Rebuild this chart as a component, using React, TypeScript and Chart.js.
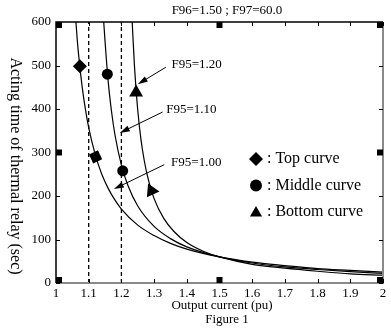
import { useEffect, useRef } from 'react';
import { Chart, registerables } from 'chart.js';

Chart.register(...registerables);

// Curve data (output current in pu, acting time in sec)
const topCurrent = [1.061, 1.065, 1.07, 1.08, 1.09, 1.10, 1.12, 1.14, 1.16, 1.18, 1.20, 1.25, 1.30, 1.35, 1.40, 1.50, 1.60, 1.70, 1.80, 1.90, 2.00];
const topTime = [600, 559, 518, 451, 399, 357, 295, 250, 217, 191, 170, 133, 109, 91, 78, 60, 48, 40, 33, 29, 25];

const middleCurrent = [1.146, 1.15, 1.16, 1.17, 1.18, 1.20, 1.22, 1.25, 1.30, 1.35, 1.40, 1.50, 1.60, 1.70, 1.80, 1.90, 2.00];
const middleTime = [600, 555, 460, 393, 342, 271, 224, 177, 130, 102, 83, 60, 46, 37, 31, 26, 22];

const bottomCurrent = [1.233, 1.24, 1.25, 1.26, 1.27, 1.28, 1.30, 1.33, 1.36, 1.40, 1.45, 1.50, 1.60, 1.70, 1.80, 1.90, 2.00];
const bottomTime = [600, 498, 397, 329, 281, 245, 194, 148, 119, 93, 73, 60, 43, 34, 27, 21, 18];

// Marker positions on the curves
const topMarkCurrent = [1.073, 1.121];
const topMarkTime = [498, 290];
const middleMarkCurrent = [1.157, 1.204];
const middleMarkTime = [480, 258];
const bottomMarkCurrent = [1.245, 1.292];
const bottomMarkTime = [438, 212];

// Dashed reference lines
const dashedCurrents = [1.1, 1.2];

// Axis limits
const xMin = 1, xMax = 2, xStep = 0.1;
const yMin = 0, yMax = 600, yStep = 100;
const xSquareTicks = [1, 1.5, 2];
const ySquareTicks = [0, 300, 600];

// Annotations (F95 labels with arrows)
const annotLabels = ['F95=1.20', 'F95=1.10', 'F95=1.00'];
const annotTextCurrent = [1.353, 1.337, 1.352];
const annotTextTime = [503, 399, 276];
const annotTailCurrent = [1.336, 1.326, 1.331];
const annotTailTime = [496, 393, 272];
const annotTipCurrent = [1.250, 1.195, 1.177];
const annotTipTime = [457, 345, 216];

// Legend
const legendLabels = [': Top curve', ': Middle curve', ': Bottom curve'];
const legendShapes = ['diamond', 'circle', 'triangle'];

const titleText = 'F96=1.50 ; F97=60.0';
const xTitle = 'Output current (pu)';
const figureText = 'Figure 1';
const yTitle = 'Acting time of thermal relay (sec)';

const SERIF = "'Liberation Serif', 'Times New Roman', serif";

function toXY(xs: number[], ys: number[]) {
  return xs.map((x, i) => ({ x, y: ys[i] }));
}

function drawShape(ctx: CanvasRenderingContext2D, shape: string, x: number, y: number, r: number) {
  ctx.beginPath();
  if (shape === 'diamond') {
    ctx.moveTo(x, y - r);
    ctx.lineTo(x + r, y);
    ctx.lineTo(x, y + r);
    ctx.lineTo(x - r, y);
  } else if (shape === 'circle') {
    ctx.arc(x, y, r * 0.85, 0, Math.PI * 2);
  } else {
    const w = r * Math.sin((2 * Math.PI) / 3);
    ctx.moveTo(x, y - r);
    ctx.lineTo(x + w, y + r / 2);
    ctx.lineTo(x - w, y + r / 2);
  }
  ctx.closePath();
  ctx.fill();
}

const decorPlugin = {
  id: 'decor',
  afterDraw(chart: any) {
    const ctx: CanvasRenderingContext2D = chart.ctx;
    const { left, right, top, bottom } = chart.chartArea;
    const xs = chart.scales.x;
    const ys = chart.scales.y;
    ctx.save();

    // Frame
    ctx.strokeStyle = '#8a8a8a';
    ctx.lineWidth = 2;
    ctx.beginPath();
    ctx.moveTo(left, bottom);
    ctx.lineTo(right, bottom);
    ctx.lineTo(right, top);
    ctx.stroke();
    ctx.strokeStyle = '#000';
    ctx.lineWidth = 1.5;
    ctx.beginPath();
    ctx.moveTo(left, bottom);
    ctx.lineTo(left, top);
    ctx.lineTo(right, top);
    ctx.stroke();

    // Inside ticks
    ctx.lineWidth = 1;
    ctx.strokeStyle = '#000';
    const tl = 4;
    xs.ticks.forEach((t: any) => {
      const px = Math.round(xs.getPixelForValue(t.value)) + 0.5;
      ctx.beginPath();
      ctx.moveTo(px, top);
      ctx.lineTo(px, top + tl);
      ctx.moveTo(px, bottom);
      ctx.lineTo(px, bottom - tl);
      ctx.stroke();
    });
    ys.ticks.forEach((t: any) => {
      const py = Math.round(ys.getPixelForValue(t.value)) + 0.5;
      ctx.beginPath();
      ctx.moveTo(left, py);
      ctx.lineTo(left + tl, py);
      ctx.moveTo(right, py);
      ctx.lineTo(right - tl, py);
      ctx.stroke();
    });

    // Squares
    ctx.fillStyle = '#000';
    const s = 6;
    xSquareTicks.forEach((v) => {
      const px = xs.getPixelForValue(v);
      let x0 = px - s / 2;
      if (x0 < left) x0 = left;
      if (x0 + s > right) x0 = right - s;
      ctx.fillRect(x0, top, s, s);
      ctx.fillRect(x0, bottom - s, s, s);
    });
    ySquareTicks.forEach((v) => {
      const py = ys.getPixelForValue(v);
      let y0 = py - s / 2;
      if (y0 < top) y0 = top;
      if (y0 + s > bottom) y0 = bottom - s;
      ctx.fillRect(left, y0, s, s);
      ctx.fillRect(right - s, y0, s, s);
    });

    // Annotations
    ctx.fillStyle = '#000';
    ctx.strokeStyle = '#000';
    ctx.font = `13px ${SERIF}`;
    ctx.textBaseline = 'middle';
    ctx.textAlign = 'left';
    annotLabels.forEach((lab, i) => {
      const tx = xs.getPixelForValue(annotTextCurrent[i]);
      const ty = ys.getPixelForValue(annotTextTime[i]);
      ctx.fillText(lab, tx, ty);
      const ax = xs.getPixelForValue(annotTailCurrent[i]);
      const ay = ys.getPixelForValue(annotTailTime[i]);
      const bx = xs.getPixelForValue(annotTipCurrent[i]);
      const by = ys.getPixelForValue(annotTipTime[i]);
      const ang = Math.atan2(by - ay, bx - ax);
      const hl = 10, hw = 3;
      ctx.lineWidth = 1;
      ctx.beginPath();
      ctx.moveTo(ax, ay);
      ctx.lineTo(bx - Math.cos(ang) * hl * 0.8, by - Math.sin(ang) * hl * 0.8);
      ctx.stroke();
      ctx.beginPath();
      ctx.moveTo(bx, by);
      ctx.lineTo(bx - Math.cos(ang) * hl - Math.sin(ang) * hw, by - Math.sin(ang) * hl + Math.cos(ang) * hw);
      ctx.lineTo(bx - Math.cos(ang) * hl + Math.sin(ang) * hw, by - Math.sin(ang) * hl - Math.cos(ang) * hw);
      ctx.closePath();
      ctx.fill();
    });

    // Legend
    ctx.font = `16px ${SERIF}`;
    legendLabels.forEach((lab, i) => {
      const cy = 159 + i * 26.5;
      drawShape(ctx, legendShapes[i], 256, cy + (legendShapes[i] === 'triangle' ? 1 : 0), 7);
      ctx.fillText(lab, 267, cy);
    });

    // Titles
    ctx.textAlign = 'center';
    ctx.font = `13px ${SERIF}`;
    ctx.fillText(titleText, 227, 11);
    ctx.fillText(xTitle, 222, 306);
    ctx.fillText(figureText, 227, 320);

    ctx.save();
    ctx.translate(15, 166);
    ctx.rotate(Math.PI / 2);
    ctx.font = `16px ${SERIF}`;
    ctx.fillText(yTitle, 0, 0);
    ctx.restore();

    ctx.restore();
  },
};

export default function App() {
  const ref = useRef<HTMLCanvasElement | null>(null);

  useEffect(() => {
    document.body.style.margin = '0';
    const canvas = ref.current;
    if (!canvas) return;

    const curveStyle = {
      type: 'line' as const,
      borderColor: '#000',
      borderWidth: 1.2,
      pointRadius: 0,
      fill: false,
      cubicInterpolationMode: 'monotone' as const,
      order: 2,
    };

    const datasets: any[] = [
      { ...curveStyle, label: 'Top', data: toXY(topCurrent, topTime) },
      { ...curveStyle, label: 'Middle', data: toXY(middleCurrent, middleTime) },
      { ...curveStyle, label: 'Bottom', data: toXY(bottomCurrent, bottomTime) },
      ...dashedCurrents.map((c) => ({
        type: 'line',
        label: 'dash' + c,
        data: [{ x: c, y: yMin }, { x: c, y: yMax }],
        borderColor: '#000',
        borderWidth: 1.3,
        borderDash: [4, 3],
        pointRadius: 0,
        order: 3,
      })),
      {
        type: 'scatter',
        label: 'TopMarks',
        data: toXY(topMarkCurrent, topMarkTime),
        pointStyle: 'rectRot',
        pointRadius: 7,
        pointRotation: [0, 20],
        backgroundColor: '#000',
        borderColor: '#000',
        borderWidth: 0,
        order: 1,
      },
      {
        type: 'scatter',
        label: 'MiddleMarks',
        data: toXY(middleMarkCurrent, middleMarkTime),
        pointStyle: 'circle',
        pointRadius: 5.5,
        backgroundColor: '#000',
        borderColor: '#000',
        borderWidth: 0,
        order: 1,
      },
      {
        type: 'scatter',
        label: 'BottomMarks',
        data: toXY(bottomMarkCurrent, bottomMarkTime),
        pointStyle: 'triangle',
        pointRadius: 8,
        pointRotation: [0, -25],
        backgroundColor: '#000',
        borderColor: '#000',
        borderWidth: 0,
        order: 1,
      },
    ];

    const chart = new Chart(canvas, {
      type: 'line',
      data: { datasets },
      options: {
        animation: false,
        responsive: false,
        devicePixelRatio: 1,
        layout: { padding: { left: 0, right: 6, top: 22, bottom: 0 } },
        plugins: {
          legend: { display: false },
          title: { display: false },
          tooltip: { enabled: false },
        },
        scales: {
          x: {
            type: 'linear',
            min: xMin,
            max: xMax,
            grid: { display: false, drawTicks: false },
            border: { display: false },
            ticks: {
              stepSize: xStep,
              padding: 3,
              color: '#000',
              font: { family: SERIF, size: 13 },
              maxRotation: 0,
              autoSkip: false,
              callback: (v: any) => String(Number(Number(v).toFixed(1))),
            },
            afterFit: (s: any) => { s.height = 48; },
          },
          y: {
            type: 'linear',
            min: yMin,
            max: yMax,
            grid: { display: false, drawTicks: false },
            border: { display: false },
            ticks: {
              stepSize: yStep,
              padding: 5,
              color: '#000',
              font: { family: SERIF, size: 13 },
            },
            afterFit: (s: any) => { s.width = 56; },
          },
        },
      },
      plugins: [decorPlugin],
    });

    return () => chart.destroy();
  }, []);

  return (
    <div style={{ width: 391, height: 331 }}>
      <canvas ref={ref} width={391} height={331} style={{ display: 'block' }} />
    </div>
  );
}
